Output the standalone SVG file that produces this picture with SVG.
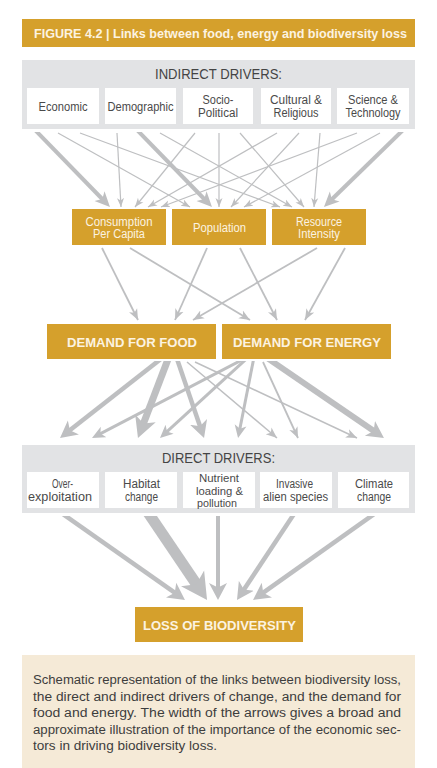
<svg xmlns="http://www.w3.org/2000/svg" width="437" height="768" viewBox="0 0 437 768">
<style>
text{font-family:"Liberation Sans",Arial,sans-serif}
.pan{fill:#E2E3E5}
.wb{fill:#FFFFFF}
.gold{fill:#D5A02C}
.lbl{font-size:12px;fill:#4a4a4a;text-anchor:middle}
.sm{font-size:11px}
.hd{font-size:14px;fill:#444444;text-anchor:middle}
.gt{font-size:12px;fill:#FCF3E1;text-anchor:middle}
.gb{font-size:13.5px;font-weight:bold;fill:#FCF3E1;text-anchor:middle}
.cap{font-size:12.5px;fill:#3d3d3d}
.c{fill:none;stroke:#BEBFC1}
.mh{fill:#BEBFC1}
.t1{stroke-width:1.2;marker-end:url(#a1)}
.t2{stroke-width:1.8;marker-end:url(#a2)}
.k3{stroke-width:4;marker-end:url(#a3)}
.km{stroke-width:3;marker-end:url(#mm)}
.kt{stroke-width:4.5;marker-end:url(#mt)}
.kb{stroke-width:7;marker-end:url(#mb)}
.kx{stroke-width:11;marker-end:url(#mx)}
</style>
<defs>
<marker id="a1" markerUnits="userSpaceOnUse" viewBox="0 -5 10 10" markerWidth="10" markerHeight="10" refX="9" refY="0" orient="auto"><path class="mh" d="M0,-3.5 L9,0 L0,3.5 L2.5,0 Z"/></marker>
<marker id="a2" markerUnits="userSpaceOnUse" viewBox="0 -6 12 12" markerWidth="12" markerHeight="12" refX="11" refY="0" orient="auto"><path class="mh" d="M0,-4.5 L11,0 L0,4.5 L3,0 Z"/></marker>
<marker id="a3" markerUnits="userSpaceOnUse" viewBox="0 -8 16 16" markerWidth="16" markerHeight="16" refX="6" refY="0" orient="auto"><path class="mh" d="M0,-7 L15,0 L0,7 L4,0 Z"/></marker>
<marker id="mm" markerUnits="userSpaceOnUse" viewBox="0 -7 14 14" markerWidth="14" markerHeight="14" refX="5" refY="0" orient="auto"><path class="mh" d="M0,-6 L13,0 L0,6 L3.5,0 Z"/></marker>
<marker id="mt" markerUnits="userSpaceOnUse" viewBox="0 -10 18 20" markerWidth="18" markerHeight="20" refX="7" refY="0" orient="auto"><path class="mh" d="M0,-9 L17,0 L0,9 L4.5,0 Z"/></marker>
<marker id="mb" markerUnits="userSpaceOnUse" viewBox="0 -12 22 24" markerWidth="22" markerHeight="24" refX="8" refY="0" orient="auto"><path class="mh" d="M0,-11 L21,0 L0,11 L5.5,0 Z"/></marker>
<marker id="mx" markerUnits="userSpaceOnUse" viewBox="0 -15 27 30" markerWidth="27" markerHeight="30" refX="10" refY="0" orient="auto"><path class="mh" d="M0,-14 L26,0 L0,14 L7,0 Z"/></marker>
<clipPath id="cl1"><rect x="0" y="132" width="437" height="84"/></clipPath>
<clipPath id="cl2"><rect x="0" y="247" width="437" height="78"/></clipPath>
<clipPath id="cl3"><rect x="0" y="361" width="437" height="83"/></clipPath>
<clipPath id="cl4"><rect x="0" y="516" width="437" height="90"/></clipPath>
</defs>
<rect width="437" height="768" fill="#FFFFFF"/>

<g id="title">
<rect class="gold" x="22" y="19" width="393" height="28"/>
<text x="34" y="38" font-size="12" font-weight="bold" fill="#FCF3E1" textLength="373" lengthAdjust="spacingAndGlyphs">FIGURE 4.2 | Links between food, energy and biodiversity loss</text>
</g>

<g id="indirect-drivers">
<rect class="pan" x="22" y="60" width="393" height="69"/>
<text class="hd" x="218.5" y="79" textLength="127" lengthAdjust="spacingAndGlyphs">INDIRECT DRIVERS:</text>
</g>
<g id="economic"><rect class="wb" x="27" y="88" width="72" height="36"/><text class="lbl" x="63" y="110.5" textLength="49" lengthAdjust="spacingAndGlyphs">Economic</text></g>
<g id="demographic"><rect class="wb" x="105" y="88" width="71" height="36"/><text class="lbl" x="140.5" y="110.5" textLength="66" lengthAdjust="spacingAndGlyphs">Demographic</text></g>
<g id="socio-political"><rect class="wb" x="183" y="88" width="70" height="36"/><text class="lbl" x="218" y="104" textLength="31" lengthAdjust="spacingAndGlyphs">Socio-</text><text class="lbl" x="218" y="117" textLength="40" lengthAdjust="spacingAndGlyphs">Political</text></g>
<g id="cultural-religious"><rect class="wb" x="261" y="88" width="70" height="36"/><text class="lbl" x="296" y="104" textLength="52" lengthAdjust="spacingAndGlyphs">Cultural &amp;</text><text class="lbl" x="296" y="117" textLength="45" lengthAdjust="spacingAndGlyphs">Religious</text></g>
<g id="science-technology"><rect class="wb" x="337" y="88" width="72" height="36"/><text class="lbl" x="373" y="104" textLength="50" lengthAdjust="spacingAndGlyphs">Science &amp;</text><text class="lbl" x="373" y="117" textLength="55" lengthAdjust="spacingAndGlyphs">Technology</text></g>

<g id="consumption"><rect class="gold" x="72" y="209" width="94" height="36"/><text class="gt" x="119" y="225.5" textLength="67" lengthAdjust="spacingAndGlyphs">Consumption</text><text class="gt" x="119" y="238" textLength="52" lengthAdjust="spacingAndGlyphs">Per Capita</text></g>
<g id="population"><rect class="gold" x="172" y="209" width="94" height="36"/><text class="gt" x="219.5" y="231.5" textLength="53" lengthAdjust="spacingAndGlyphs">Population</text></g>
<g id="resource-intensity"><rect class="gold" x="272" y="209" width="94" height="36"/><text class="gt" x="319" y="225.5" textLength="46" lengthAdjust="spacingAndGlyphs">Resource</text><text class="gt" x="319" y="238" textLength="42" lengthAdjust="spacingAndGlyphs">Intensity</text></g>

<g id="demand-food"><rect class="gold" x="47" y="324" width="169" height="35"/><text class="gb" x="132" y="346.5" textLength="130" lengthAdjust="spacingAndGlyphs">DEMAND FOR FOOD</text></g>
<g id="demand-energy"><rect class="gold" x="222" y="324" width="169" height="35"/><text class="gb" x="307" y="346.5" textLength="148" lengthAdjust="spacingAndGlyphs">DEMAND FOR ENERGY</text></g>

<g id="direct-drivers">
<rect class="pan" x="22" y="445" width="393" height="68"/>
<text class="hd" x="218.5" y="463" textLength="113" lengthAdjust="spacingAndGlyphs">DIRECT DRIVERS:</text>
</g>
<g id="overexploitation"><rect class="wb" x="27" y="472" width="72" height="36"/><text class="lbl" x="62.5" y="488" textLength="21" lengthAdjust="spacingAndGlyphs">Over-</text><text class="lbl" x="60" y="501" textLength="64" lengthAdjust="spacingAndGlyphs">exploitation</text></g>
<g id="habitat"><rect class="wb" x="105" y="472" width="72" height="36"/><text class="lbl" x="141.5" y="488" textLength="37" lengthAdjust="spacingAndGlyphs">Habitat</text><text class="lbl" x="141.5" y="501" textLength="33" lengthAdjust="spacingAndGlyphs">change</text></g>
<g id="nutrient"><rect class="wb" x="183" y="472" width="72" height="36"/><text class="lbl sm" x="219" y="482" textLength="40" lengthAdjust="spacingAndGlyphs">Nutrient</text><text class="lbl sm" x="219.5" y="494.5" textLength="47" lengthAdjust="spacingAndGlyphs">loading &amp;</text><text class="lbl sm" x="217" y="507" textLength="40" lengthAdjust="spacingAndGlyphs">pollution</text></g>
<g id="invasive"><rect class="wb" x="260" y="472" width="72" height="36"/><text class="lbl" x="294.5" y="488" textLength="37" lengthAdjust="spacingAndGlyphs">Invasive</text><text class="lbl" x="295.5" y="501" textLength="65" lengthAdjust="spacingAndGlyphs">alien species</text></g>
<g id="climate"><rect class="wb" x="338" y="472" width="71" height="36"/><text class="lbl" x="374" y="488" textLength="38" lengthAdjust="spacingAndGlyphs">Climate</text><text class="lbl" x="374" y="501" textLength="34" lengthAdjust="spacingAndGlyphs">change</text></g>

<g id="loss"><rect class="gold" x="135" y="607" width="168" height="35"/><text class="gb" x="219.5" y="629.5" textLength="153" lengthAdjust="spacingAndGlyphs">LOSS OF BIODIVERSITY</text></g>

<g id="connectors">
<g clip-path="url(#cl1)">
<path class="c k3" d="M33.8,128.7 L103.7,200.5"/>
<path class="c t1" d="M58,133 L190,207"/>
<path class="c t1" d="M80,133 L280,207"/>
<path class="c t1" d="M117,133 L121,207"/>
<path class="c k3" d="M135.8,128.7 L205.7,200.5"/>
<path class="c t1" d="M160,133 L292,207"/>
<path class="c t1" d="M195,133 L135,207"/>
<path class="c t1" d="M219,133 L219,207"/>
<path class="c t1" d="M240,133 L304,207"/>
<path class="c t1" d="M277,133 L148,207"/>
<path class="c t1" d="M299,133 L231,207"/>
<path class="c t1" d="M320,133 L314,207"/>
<path class="c t1" d="M357,133 L161,207"/>
<path class="c t1" d="M380,133 L244,207"/>
<path class="c k3" d="M404.3,128.8 L330.4,200.7"/>
</g>
<g clip-path="url(#cl2)">
<path class="c t2" d="M102,248 L138,320"/>
<path class="c t2" d="M130,248 L250,320"/>
<path class="c t2" d="M207,248 L175,320"/>
<path class="c t2" d="M240,248 L277,320"/>
<path class="c t2" d="M317,248 L193,320"/>
<path class="c t2" d="M345,248 L305,320"/>
</g>
<g clip-path="url(#cl3)">
<path class="c kt" d="M161.7,358.3 L67.9,431.8"/>
<path class="c km" d="M243.3,359.2 L99.1,434.3"/>
<path class="c kb" d="M169.1,356.4 L142.6,425.8"/>
<path class="c km" d="M247.4,358 L165.9,432.6"/>
<path class="c kt" d="M176.1,356.3 L200.8,428.5"/>
<path class="c km" d="M254.2,356.1 L239.6,430.2"/>
<path class="c t2" style="stroke-width:1.5" d="M187,362 L277,438"/>
<path class="c t2" d="M263,362 L298,438"/>
<path class="c t2" style="stroke-width:1.5" d="M195,362 L357,438"/>
<path class="c kt" style="stroke-width:6" d="M268,358.6 L375.7,432.3"/>
</g>
<g clip-path="url(#cl4)">
<path class="c kt" d="M62.1,513.5 L176.8,594.2"/>
<path class="c kx" d="M145.4,508.7 L198.1,586.7"/>
<path class="c kt" style="stroke-width:4" d="M218,512 L218,590"/>
<path class="c kt" d="M295.3,512 L242.5,591.7"/>
<path class="c kt" d="M374.9,513.5 L261.2,594.2"/>
</g>
</g>

<g id="caption">
<rect x="22" y="655" width="393" height="113" fill="#F5EAD7"/>
<text class="cap" x="33" y="684" textLength="368" lengthAdjust="spacingAndGlyphs">Schematic representation of the links between biodiversity loss,</text>
<text class="cap" x="33" y="700.5" textLength="368" lengthAdjust="spacingAndGlyphs">the direct and indirect drivers of change, and the demand for</text>
<text class="cap" x="33" y="717" textLength="368" lengthAdjust="spacingAndGlyphs">food and energy. The width of the arrows gives a broad and</text>
<text class="cap" x="33" y="733.5" textLength="368" lengthAdjust="spacingAndGlyphs">approximate illustration of the importance of the economic sec-</text>
<text class="cap" x="33" y="750" textLength="184" lengthAdjust="spacingAndGlyphs">tors in driving biodiversity loss.</text>
</g>
</svg>
